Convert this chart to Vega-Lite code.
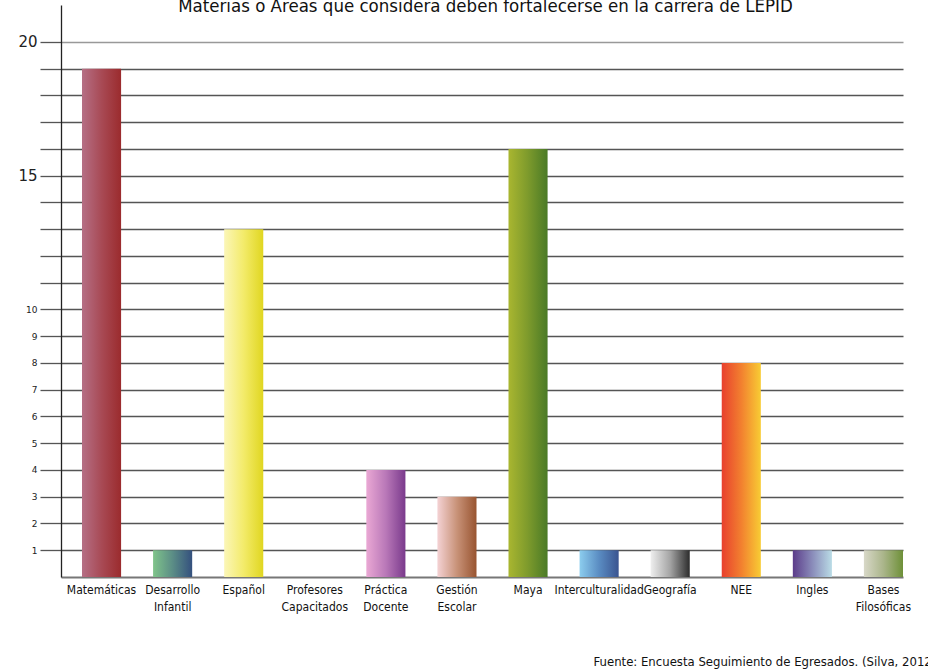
{
  "$schema": "https://vega.github.io/schema/vega-lite/v6.json",
  "width": 842,
  "height": 572,
  "autosize": {"type": "none"},
  "padding": {"left": 61, "top": 5, "right": 25, "bottom": 92},
  "background": "white",
  "data": {
    "values": [
      {"Materia": "Matemáticas", "Frecuencia": 19},
      {"Materia": "Desarrollo Infantil", "Frecuencia": 1},
      {"Materia": "Español", "Frecuencia": 13},
      {"Materia": "Profesores Capacitados", "Frecuencia": 0},
      {"Materia": "Práctica Docente", "Frecuencia": 4},
      {"Materia": "Gestión Escolar", "Frecuencia": 3},
      {"Materia": "Maya", "Frecuencia": 16},
      {"Materia": "Interculturalidad", "Frecuencia": 1},
      {"Materia": "Geografía", "Frecuencia": 1},
      {"Materia": "NEE", "Frecuencia": 8},
      {"Materia": "Ingles", "Frecuencia": 1},
      {"Materia": "Bases Filosóficas", "Frecuencia": 1}
    ]
  },
  "mark": {"type": "bar", "stroke": null},
  "encoding": {
    "x": {
      "field": "Materia",
      "type": "nominal",
      "sort": null,
      "scale": {"paddingInner": 0.45, "paddingOuter": 0.1477, "align": 1},
      "axis": {
        "title": "Fuente: Encuesta Seguimiento de Egresados. (Silva, 2012)",
        "titleFont": "DejaVu Sans Condensed",
        "titleFontSize": 13,
        "titleFontWeight": "normal",
        "titleColor": "#111111",
        "titleAnchor": "start",
        "titleAlign": "left",
        "titleBaseline": "alphabetic",
        "titleX": 532,
        "titleY": 88,
        "labelAngle": 0,
        "labelExpr": "split(datum.label, ' ')",
        "labelFont": "DejaVu Sans Condensed",
        "labelFontSize": 12,
        "labelColor": "#111111",
        "labelLineHeight": 17,
        "labelPadding": 7,
        "labelOverlap": false,
        "labelLimit": 200,
        "ticks": false,
        "domainColor": "#777777",
        "domainWidth": 2
      }
    },
    "y": {
      "field": "Frecuencia",
      "type": "quantitative",
      "scale": {"domain": [0, 21.38], "nice": false, "zero": true},
      "axis": {
        "title": "Materias o Áreas que considera deben fortalecerse en la carrera de LEPID",
        "titleFont": "DejaVu Sans Condensed",
        "titleFontSize": 18.5,
        "titleFontWeight": "normal",
        "titleColor": "#111111",
        "titleAngle": 0,
        "titleAlign": "center",
        "titleBaseline": "alphabetic",
        "titleX": 424,
        "titleY": 6,
        "values": [1, 2, 3, 4, 5, 6, 7, 8, 9, 10, 11, 12, 13, 14, 15, 16, 17, 18, 19, 20],
        "labelExpr": "datum.value > 10 && datum.value % 5 != 0 ? '' : datum.label",
        "labelFont": "DejaVu Sans",
        "labelFontSize": {"condition": {"test": "datum.value >= 15", "value": 15}, "value": 9},
        "labelColor": "#222222",
        "labelPadding": 3,
        "tickSize": 21,
        "tickColor": "#555555",
        "tickWidth": 1.3,
        "grid": true,
        "gridColor": {"condition": {"test": "datum.value == 20", "value": "#999999"}, "value": "#555555"},
        "gridWidth": 1.3,
        "domainColor": "#222222",
        "domainWidth": 1.3
      }
    },
    "color": {
      "condition": [
        {"test": "datum.Materia == 'Matemáticas'", "value": {"gradient": "linear", "x1": 0, "y1": 0, "x2": 1, "y2": 0, "stops": [{"offset": 0, "color": "#b56f85"}, {"offset": 0.5, "color": "#a84a55"}, {"offset": 1, "color": "#9b2b2d"}]}},
        {"test": "datum.Materia == 'Desarrollo Infantil'", "value": {"gradient": "linear", "x1": 0, "y1": 0, "x2": 1, "y2": 0, "stops": [{"offset": 0, "color": "#80c48a"}, {"offset": 0.5, "color": "#5b8d86"}, {"offset": 1, "color": "#34507e"}]}},
        {"test": "datum.Materia == 'Español'", "value": {"gradient": "linear", "x1": 0, "y1": 0, "x2": 1, "y2": 0, "stops": [{"offset": 0, "color": "#fbf6b8"}, {"offset": 0.5, "color": "#f3eb6a"}, {"offset": 1, "color": "#e0d620"}]}},
        {"test": "datum.Materia == 'Práctica Docente'", "value": {"gradient": "linear", "x1": 0, "y1": 0, "x2": 1, "y2": 0, "stops": [{"offset": 0, "color": "#eaa8d4"}, {"offset": 0.5, "color": "#b978b8"}, {"offset": 1, "color": "#7a3a8c"}]}},
        {"test": "datum.Materia == 'Gestión Escolar'", "value": {"gradient": "linear", "x1": 0, "y1": 0, "x2": 1, "y2": 0, "stops": [{"offset": 0, "color": "#f4d2d4"}, {"offset": 0.5, "color": "#c89278"}, {"offset": 1, "color": "#985430"}]}},
        {"test": "datum.Materia == 'Maya'", "value": {"gradient": "linear", "x1": 0, "y1": 0, "x2": 1, "y2": 0, "stops": [{"offset": 0, "color": "#a9b630"}, {"offset": 0.5, "color": "#7d9a2c"}, {"offset": 1, "color": "#4a7a26"}]}},
        {"test": "datum.Materia == 'Interculturalidad'", "value": {"gradient": "linear", "x1": 0, "y1": 0, "x2": 1, "y2": 0, "stops": [{"offset": 0, "color": "#8ccdee"}, {"offset": 0.5, "color": "#5a8cc2"}, {"offset": 1, "color": "#3a5490"}]}},
        {"test": "datum.Materia == 'Geografía'", "value": {"gradient": "linear", "x1": 0, "y1": 0, "x2": 1, "y2": 0, "stops": [{"offset": 0, "color": "#eeeeee"}, {"offset": 0.5, "color": "#a4a4a4"}, {"offset": 1, "color": "#2c2c2c"}]}},
        {"test": "datum.Materia == 'NEE'", "value": {"gradient": "linear", "x1": 0, "y1": 0, "x2": 1, "y2": 0, "stops": [{"offset": 0, "color": "#e8402e"}, {"offset": 0.5, "color": "#f2802f"}, {"offset": 1, "color": "#f8cc34"}]}},
        {"test": "datum.Materia == 'Ingles'", "value": {"gradient": "linear", "x1": 0, "y1": 0, "x2": 1, "y2": 0, "stops": [{"offset": 0, "color": "#5c3c8a"}, {"offset": 0.5, "color": "#8a8cba"}, {"offset": 1, "color": "#badce6"}]}},
        {"test": "datum.Materia == 'Bases Filosóficas'", "value": {"gradient": "linear", "x1": 0, "y1": 0, "x2": 1, "y2": 0, "stops": [{"offset": 0, "color": "#d8d8c8"}, {"offset": 0.5, "color": "#aab58a"}, {"offset": 1, "color": "#6e9038"}]}}
      ],
      "value": "#999999"
    }
  },
  "config": {
    "view": {"stroke": null}
  }
}
